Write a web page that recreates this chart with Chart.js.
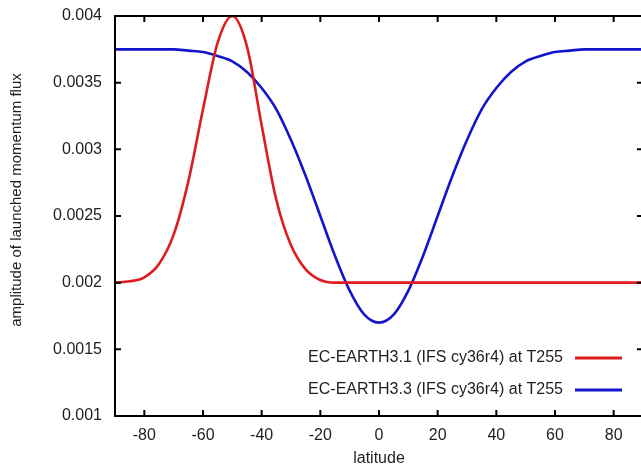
<!DOCTYPE html>
<html>
<head>
<meta charset="utf-8">
<title>amplitude of launched momentum flux</title>
<script src="https://cdn.jsdelivr.net/npm/chart.js@4.4.1/dist/chart.umd.min.js"></script>
<style>
    html, body { margin: 0; padding: 0; background: #fff; overflow: hidden; }
    #chart { display: block; }
</style>
</head>
<body>
<canvas id="chart" width="645" height="467"></canvas>
<script>
// latitude samples (degrees)
const latitudes = [-90, -85, -80, -75, -70, -65, -60, -55, -50, -45, -40, -35, -30, -25, -20, -15, -10, -5, 0,
    5, 10, 15, 20, 25, 30, 35, 40, 45, 50, 55, 60, 65, 70, 75, 80, 85, 90];

// EC-EARTH3.1 (red)
const ecEarth31 = [0.002, 0.00201, 0.00204, 0.00214, 0.00236, 0.00276, 0.0033, 0.0038, 0.004, 0.00377, 0.00318,
    0.00262, 0.00228, 0.0021, 0.00202, 0.002, 0.002, 0.002, 0.002,
    0.002, 0.002, 0.002, 0.002, 0.002, 0.002, 0.002, 0.002, 0.002, 0.002, 0.002, 0.002, 0.002, 0.002, 0.002,
    0.002, 0.002, 0.002];

// EC-EARTH3.3 (blue)
const ecEarth33 = [0.00375, 0.00375, 0.00375, 0.00375, 0.00375, 0.00374, 0.00373, 0.0037, 0.00366, 0.00358,
    0.00346, 0.0033, 0.00307, 0.0028, 0.0025, 0.0022, 0.00194, 0.00176, 0.0017,
    0.00176, 0.00194, 0.0022, 0.0025, 0.0028, 0.00307, 0.0033, 0.00346, 0.00358, 0.00366, 0.0037, 0.00373,
    0.00374, 0.00375, 0.00375, 0.00375, 0.00375, 0.00375];

const seriesLabels = ['EC-EARTH3.1 (IFS cy36r4) at T255', 'EC-EARTH3.3 (IFS cy36r4) at T255'];
const xTicks = [-80, -60, -40, -20, 0, 20, 40, 60, 80];
const yTicks = [0.001, 0.0015, 0.002, 0.0025, 0.003, 0.0035, 0.004];
const xTitle = 'latitude';
const yTitle = 'amplitude of launched momentum flux';

const FONT = "'Liberation Sans', Arial, sans-serif";
const TEXT = '#1e1e1e';

// gnuplot style frame, inward ticks, legend and y title
const gnuplotBits = {
    id: 'gnuplotBits',
    afterDatasetsDraw(chart) {
        const ctx = chart.ctx;
        const a = chart.chartArea;
        const xs = chart.scales.x;
        const ys = chart.scales.y;
        const tl = 6;

        ctx.save();
        ctx.strokeStyle = '#000';
        ctx.lineWidth = 2;
        ctx.beginPath();
        xTicks.forEach(v => {
            const px = xs.getPixelForValue(v);
            ctx.moveTo(px, a.bottom); ctx.lineTo(px, a.bottom - tl);
            ctx.moveTo(px, a.top); ctx.lineTo(px, a.top + tl);
        });
        yTicks.forEach(v => {
            const py = ys.getPixelForValue(v);
            ctx.moveTo(a.left, py); ctx.lineTo(a.left + tl, py);
            ctx.moveTo(a.right, py); ctx.lineTo(a.right - tl, py);
        });
        ctx.stroke();
        ctx.strokeRect(a.left, a.top, a.right - a.left, a.bottom - a.top);

        // legend: text on the left, sample line on the right
        ctx.font = '16px ' + FONT;
        ctx.textAlign = 'right';
        ctx.textBaseline = 'middle';
        chart.data.datasets.forEach((ds, i) => {
            const y = a.bottom - 58 + i * 32;
            ctx.fillStyle = TEXT;
            ctx.fillText(ds.label, a.right - 80, y);
            ctx.strokeStyle = ds.borderColor;
            ctx.lineWidth = 3;
            ctx.beginPath();
            ctx.moveTo(a.right - 68, y);
            ctx.lineTo(a.right - 21, y);
            ctx.stroke();
        });

        // y axis title
        ctx.font = '15px ' + FONT;
        ctx.textAlign = 'center';
        ctx.fillStyle = TEXT;
        ctx.translate(17, (a.top + a.bottom) / 2 - 16);
        ctx.rotate(-Math.PI / 2);
        ctx.fillText(yTitle, 0, 0);
        ctx.restore();
    }
};

new Chart(document.getElementById('chart'), {
    type: 'line',
    data: {
        labels: latitudes,
        datasets: [
            {
                label: seriesLabels[0],
                data: ecEarth31,
                borderColor: 'rgb(222, 28, 30)',
                borderWidth: 2.6,
                pointRadius: 0,
                cubicInterpolationMode: 'monotone',
                fill: false,
            },
            {
                label: seriesLabels[1],
                data: ecEarth33,
                borderColor: 'rgb(20, 20, 205)',
                borderWidth: 2.6,
                pointRadius: 0,
                cubicInterpolationMode: 'monotone',
                fill: false,
            }
        ]
    },
    options: {
        responsive: false,
        animation: false,
        devicePixelRatio: 1,
        layout: { padding: { top: 16, right: 2, left: 0, bottom: 0 } },
        plugins: {
            legend: { display: false },
            tooltip: { enabled: false },
        },
        scales: {
            x: {
                type: 'linear',
                min: -90,
                max: 90,
                afterBuildTicks: scale => { scale.ticks = xTicks.map(v => ({ value: v })); },
                afterFit: scale => { scale.height = 51; },
                grid: { display: false },
                border: { display: false },
                ticks: {
                    padding: 2,
                    color: TEXT,
                    font: { family: FONT, size: 16 },
                    maxRotation: 0,
                    callback: v => String(v),
                },
                title: {
                    display: true,
                    text: xTitle,
                    color: TEXT,
                    font: { family: FONT, size: 16, lineHeight: 1.05 },
                    padding: { top: 0, bottom: 0 },
                },
            },
            y: {
                min: 0.001,
                max: 0.004,
                afterBuildTicks: scale => { scale.ticks = yTicks.map(v => ({ value: v })); },
                afterFit: scale => { scale.width = 115; },
                // invisible tick marks only to push the labels away from the frame
                grid: {
                    display: true,
                    drawOnChartArea: false,
                    drawTicks: true,
                    tickLength: 13,
                    color: 'rgba(0,0,0,0)',
                },
                border: { display: false },
                ticks: {
                    padding: 0,
                    color: TEXT,
                    font: { family: FONT, size: 16 },
                    callback: v => String(v),
                },
            },
        },
    },
    plugins: [gnuplotBits],
});
</script>
</body>
</html>
